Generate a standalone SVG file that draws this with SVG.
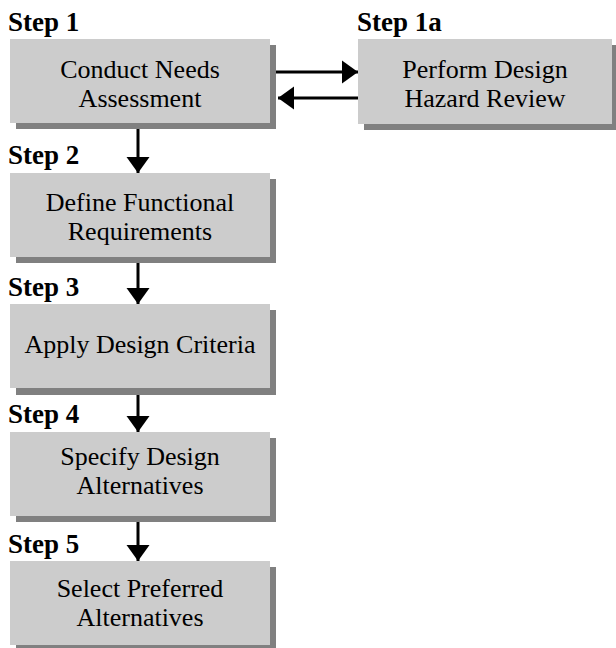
<svg xmlns="http://www.w3.org/2000/svg" width="616" height="648" viewBox="0 0 616 648">
<defs>
<style>
.step{font-family:"Liberation Serif","Times New Roman",serif;font-weight:bold;font-size:27px;fill:#000}
.lbl{font-family:"Liberation Serif","Times New Roman",serif;font-size:26px;fill:#000;text-anchor:middle}
.box{fill:#cccccc}
.shadow{fill:#808080}
.conn{stroke:#000;stroke-width:3;fill:none;marker-end:url(#ah)}
</style>
<marker id="ah" markerUnits="userSpaceOnUse" markerWidth="16" markerHeight="23" refX="16" refY="11.5" orient="auto" overflow="visible">
<path d="M0,0 L16,11.5 L0,23 Z" fill="#000"/>
</marker>
</defs>
<rect width="616" height="648" fill="#fff"/>
<g id="step1">
<text class="step" x="8" y="31">Step 1</text>
<rect class="shadow" x="16" y="45" width="260" height="84"/>
<rect class="box" x="10" y="39" width="260" height="84"/>
<text class="lbl" x="140" y="78">Conduct Needs<tspan x="140" dy="29">Assessment</tspan></text>
</g>
<g id="step1a">
<text class="step" x="357" y="31">Step 1a</text>
<rect class="shadow" x="364" y="45" width="260" height="85"/>
<rect class="box" x="358" y="39" width="254" height="85"/>
<text class="lbl" x="485" y="78">Perform Design<tspan x="485" dy="29">Hazard Review</tspan></text>
</g>
<g id="step2">
<text class="step" x="8" y="164">Step 2</text>
<rect class="shadow" x="16" y="179" width="260" height="84"/>
<rect class="box" x="10" y="173" width="260" height="84"/>
<text class="lbl" x="140" y="211">Define Functional<tspan x="140" dy="29">Requirements</tspan></text>
</g>
<g id="step3">
<text class="step" x="8" y="296">Step 3</text>
<rect class="shadow" x="16" y="310" width="260" height="85"/>
<rect class="box" x="10" y="304" width="260" height="84"/>
<text class="lbl" x="140" y="353">Apply Design Criteria</text>
</g>
<g id="step4">
<text class="step" x="8" y="423">Step 4</text>
<rect class="shadow" x="16" y="438" width="260" height="84"/>
<rect class="box" x="10" y="432" width="260" height="84"/>
<text class="lbl" x="140" y="465">Specify Design<tspan x="140" dy="29">Alternatives</tspan></text>
</g>
<g id="step5">
<text class="step" x="8" y="553">Step 5</text>
<rect class="shadow" x="16" y="567" width="260" height="84"/>
<rect class="box" x="10" y="561" width="260" height="84"/>
<text class="lbl" x="140" y="597">Select Preferred<tspan x="140" dy="29">Alternatives</tspan></text>
</g>
<g id="connectors">
<line class="conn" x1="276" y1="72" x2="358" y2="72"/>
<line class="conn" x1="358" y1="98" x2="278" y2="98"/>
<line class="conn" x1="138" y1="129" x2="138" y2="173"/>
<line class="conn" x1="138" y1="263" x2="138" y2="304"/>
<line class="conn" x1="138" y1="395" x2="138" y2="432"/>
<line class="conn" x1="138" y1="522" x2="138" y2="561"/>
</g>
</svg>
